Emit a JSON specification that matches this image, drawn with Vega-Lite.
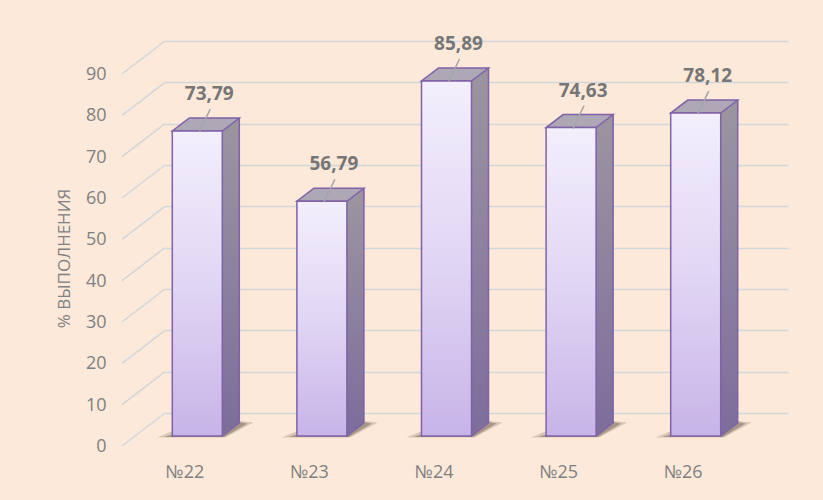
{
  "$schema": "https://vega.github.io/schema/vega-lite/v6.json",
  "width": 623,
  "height": 372,
  "autosize": {"type": "none"},
  "padding": {"left": 165, "top": 41, "right": 35, "bottom": 87},
  "background": "#FDE9D9",
  "config": {
    "view": {"stroke": null},
    "font": "Open Sans",
    "locale": {"number": {"decimal": ",", "thousands": "\u00a0", "grouping": [3], "currency": ["", " ₽"]}}
  },
  "datasets": {
    "results": [
      {"school": "№22", "value": 73.79},
      {"school": "№23", "value": 56.79},
      {"school": "№24", "value": 85.89},
      {"school": "№25", "value": 74.63},
      {"school": "№26", "value": 78.12}
    ],
    "ticks": [
      {"tick": 0}, {"tick": 10}, {"tick": 20}, {"tick": 30}, {"tick": 40},
      {"tick": 50}, {"tick": 60}, {"tick": 70}, {"tick": 80}, {"tick": 90}
    ]
  },
  "layer": [
    {
      "data": {"name": "results"},
      "mark": {"type": "bar", "width": 17, "xOffset": 3.5, "yOffset": 23, "y2Offset": 10,
        "fill": {"gradient": "linear", "x1": 0, "y1": 0, "x2": 0, "y2": 1,
          "stops": [{"offset": 0, "color": "#9A94A1"}, {"offset": 1, "color": "#7E6E9C"}]}},
      "encoding": {
        "x": {"field": "school", "type": "nominal", "sort": null,
          "scale": {"paddingInner": 0, "paddingOuter": 0},
          "axis": {"title": null, "labelAngle": 0, "labelOffset": -42.5, "labelPadding": 59,
            "labelBaseline": "middle", "ticks": false, "tickSize": 0, "domain": false, "grid": false,
            "labelFontSize": 18, "labelColor": "#808080"}},
        "y": {"field": "value", "type": "quantitative",
          "scale": {"domain": [0, 90], "nice": false},
          "axis": {"title": "% ВЫПОЛНЕНИЯ", "values": [0, 10, 20, 30, 40, 50, 60, 70, 80, 90],
            "labelOffset": 33.5, "labelPadding": 59, "ticks": false, "tickSize": 0, "domain": false,
            "grid": true, "gridColor": "#D2D7DA", "gridWidth": 1.5,
            "labelFontSize": 18, "labelColor": "#808080",
            "titleFontSize": 17, "titleColor": "#808080", "titleFontWeight": "normal",
            "titleX": -100.5, "titleY": 217, "titleAngle": -90, "titleAlign": "center", "titleBaseline": "middle"}},
        "y2": {"datum": 0}
      }
    },
    {
      "data": {"name": "ticks"},
      "mark": {"type": "point", "shape": "M -1.053 0.33 L -0.623 0", "size": 40000, "filled": false,
        "stroke": "#D2D7DA", "strokeWidth": 1.5, "opacity": 1},
      "encoding": {
        "x": {"datum": "№22", "type": "nominal"},
        "y": {"field": "tick", "type": "quantitative"}
      }
    },
    {
      "data": {"name": "results"},
      "mark": {"type": "point", "shape": "M -0.4 0.015 L 0.28 0.015 L 0.56 -0.135 L 0.42 -0.15 L -0.2 -0.07 Z", "size": 40000,
        "filled": true, "fill": "#5A4A3C", "fillOpacity": 0.22, "strokeWidth": 0, "opacity": 1,
        "xOffset": -30, "yOffset": 23},
      "encoding": {
        "x": {"field": "school", "type": "nominal", "sort": null},
        "y": {"datum": 0}
      }
    },
    {
      "data": {"name": "results"},
      "mark": {"type": "point", "shape": "M -0.33 0.01 L 0.27 0.01 L 0.5 -0.125 L 0.42 -0.14 L -0.15 -0.05 Z", "size": 40000,
        "filled": true, "fill": "#4A3A2C", "fillOpacity": 0.35, "strokeWidth": 0, "opacity": 1,
        "xOffset": -30, "yOffset": 23},
      "encoding": {
        "x": {"field": "school", "type": "nominal", "sort": null},
        "y": {"datum": 0}
      }
    },
    {
      "data": {"name": "results"},
      "mark": {"type": "bar", "width": 17, "xOffset": 3.5, "yOffset": 23, "y2Offset": 10,
        "fill": {"gradient": "linear", "x1": 0, "y1": 0, "x2": 0, "y2": 1,
          "stops": [{"offset": 0, "color": "#9A94A1"}, {"offset": 1, "color": "#7E6E9C"}]}},
      "encoding": {
        "x": {"field": "school", "type": "nominal", "sort": null},
        "y": {"field": "value", "type": "quantitative"},
        "y2": {"datum": 0}
      }
    },
    {
      "data": {"name": "results"},
      "mark": {"type": "point", "shape": "M 0.245 0.005 L 0.425 -0.135 L 0.425 0.005 Z", "size": 40000,
        "filled": true, "fill": "#9A94A1", "strokeWidth": 0, "opacity": 1, "xOffset": -30, "yOffset": 23},
      "encoding": {
        "x": {"field": "school", "type": "nominal", "sort": null},
        "y": {"field": "value", "type": "quantitative"}
      }
    },
    {
      "data": {"name": "results"},
      "mark": {"type": "point", "shape": "M 0.245 -0.135 L 0.245 0 L 0.425 -0.135 Z", "size": 40000,
        "filled": true, "fill": "#7E6E9C", "strokeWidth": 0, "opacity": 1, "xOffset": -30, "yOffset": 23},
      "encoding": {
        "x": {"field": "school", "type": "nominal", "sort": null},
        "y": {"datum": 0}
      }
    },
    {
      "data": {"name": "results"},
      "mark": {"type": "point", "shape": "M -0.25 0 L 0.25 0 L 0.42 -0.13 L -0.08 -0.13 Z", "size": 40000,
        "filled": true, "fill": "#ADA7B6", "stroke": "#7F62A8", "strokeWidth": 1.5, "opacity": 1,
        "xOffset": -30, "yOffset": 23},
      "encoding": {
        "x": {"field": "school", "type": "nominal", "sort": null},
        "y": {"field": "value", "type": "quantitative"}
      }
    },
    {
      "data": {"name": "results"},
      "mark": {"type": "bar", "width": 50, "xOffset": -30, "yOffset": 23, "y2Offset": 23,
        "stroke": "#7F62A8", "strokeWidth": 1.5,
        "fill": {"gradient": "linear", "x1": 0, "y1": 0, "x2": 0, "y2": 1,
          "stops": [{"offset": 0, "color": "#F3EFFC"}, {"offset": 0.5, "color": "#E1D6F4"}, {"offset": 1, "color": "#C8B4E8"}]}},
      "encoding": {
        "x": {"field": "school", "type": "nominal", "sort": null},
        "y": {"field": "value", "type": "quantitative"},
        "y2": {"datum": 0}
      }
    },
    {
      "data": {"name": "results"},
      "mark": {"type": "rule", "stroke": "#7F62A8", "strokeWidth": 1.5, "xOffset": 12, "yOffset": 10, "y2Offset": 10},
      "encoding": {
        "x": {"field": "school", "type": "nominal", "sort": null},
        "y": {"field": "value", "type": "quantitative"},
        "y2": {"datum": 0}
      }
    },
    {
      "data": {"name": "results"},
      "mark": {"type": "point", "shape": "M 0.25 0 L 0.42 -0.13", "size": 40000,
        "filled": false, "stroke": "#7F62A8", "strokeWidth": 1.5, "opacity": 1, "xOffset": -30, "yOffset": 23},
      "encoding": {
        "x": {"field": "school", "type": "nominal", "sort": null},
        "y": {"datum": 0}
      }
    },
    {
      "data": {"name": "results"},
      "mark": {"type": "point", "shape": "M 0.02 0.01 L 0.13 -0.22", "size": 40000,
        "filled": false, "stroke": "#A5A5A5", "strokeWidth": 1.5, "opacity": 1, "xOffset": -30, "yOffset": 23},
      "encoding": {
        "x": {"field": "school", "type": "nominal", "sort": null},
        "y": {"field": "value", "type": "quantitative"}
      }
    },
    {
      "data": {"name": "results"},
      "mark": {"type": "text", "fontSize": 19, "fontWeight": "bold", "fill": "#767676",
        "align": "center", "baseline": "middle", "xOffset": -18, "yOffset": -14},
      "encoding": {
        "x": {"field": "school", "type": "nominal", "sort": null},
        "y": {"field": "value", "type": "quantitative"},
        "text": {"field": "value", "type": "quantitative", "format": ".2f"}
      }
    }
  ]
}
